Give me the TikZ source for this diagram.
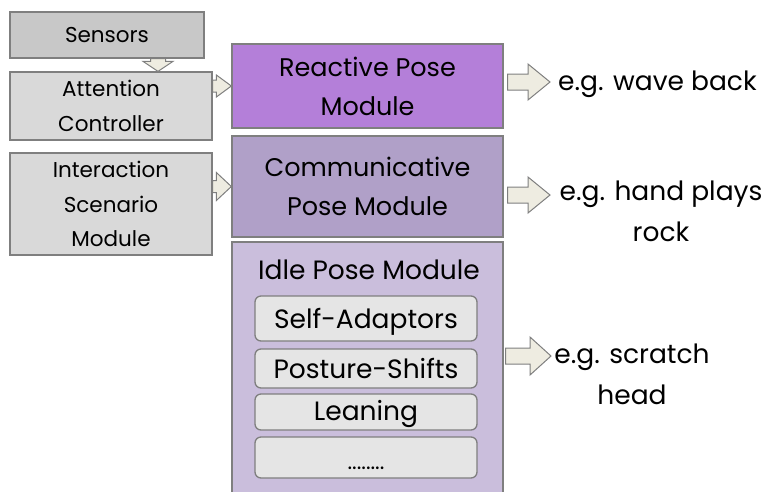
\documentclass[tikz,border=0pt]{standalone}
\usepackage{fontspec}
\setmainfont{Poppins}
\usetikzlibrary{calc}

\definecolor{sensfill}{HTML}{C8C8C8}
\definecolor{boxfill}{HTML}{D9D9D9}
\definecolor{reactfill}{HTML}{B47FD9}
\definecolor{commfill}{HTML}{B0A0C8}
\definecolor{idlefill}{HTML}{CABEDC}
\definecolor{subfill}{HTML}{E5E5E5}
\definecolor{arrowfill}{HTML}{EEECE1}
\definecolor{edge}{HTML}{7F7F7F}

% horizontal block arrow: x of #1 (+ gap #6) to tip #2; shaft half #3, head half #4, head length #5
\newcommand{\hblock}[6]{%
  \path[blockarrow] let \p1=(#1), \p2=(#2) in
    (\x1+#6,\y2+#3) -- (\x2-#5,\y2+#3) -- (\x2-#5,\y2+#4) -- (\x2,\y2)
    -- (\x2-#5,\y2-#4) -- (\x2-#5,\y2-#3) -- (\x1+#6,\y2-#3) -- cycle;}
% downward block arrow: y of #1 to tip #2
\newcommand{\vblock}[5]{%
  \path[blockarrow] let \p1=(#1), \p2=(#2) in
    (\x2-#3,\y1) -- (\x2-#3,\y2+#5) -- (\x2-#4,\y2+#5) -- (\x2,\y2)
    -- (\x2+#4,\y2+#5) -- (\x2+#3,\y2+#5) -- (\x2+#3,\y1) -- cycle;}

\begin{document}
\begin{tikzpicture}[x=1pt,y=-1pt,
  box/.style={draw=edge, line width=1.3pt, rectangle, inner sep=0pt, align=center},
  leftbox/.style={box, fill=boxfill, minimum width=202pt, font=\fontsize{21.5}{34.5}\selectfont},
  module/.style={box, minimum width=271pt, font=\fontsize{25.5}{39}\selectfont},
  subbox/.style={draw=edge, line width=1.3pt, fill=subfill, rounded corners=6pt,
    minimum width=222pt, inner sep=0pt, font=\fontsize{26.5}{28}\selectfont},
  outtext/.style={align=center, inner sep=0pt, font=\fontsize{26.5}{41}\selectfont},
  blockarrow/.style={draw=edge, line width=1pt, fill=arrowfill, line join=miter}
]
\useasboundingbox (0,0) rectangle (765,491);

% input side
\node[box, fill=sensfill, minimum width=194pt, minimum height=46pt,
      font=\fontsize{21.5}{34}\selectfont] (sens) at (107,35) {Sensors};
\node[leftbox, minimum height=68pt] (att) at (111,106) {Attention\\Controller};
\node[leftbox, minimum height=102pt] (inter) at (111,204) {Interaction\\Scenario\\Module};

% pose modules
\node[module, fill=reactfill, minimum height=84pt] (react) at (367.5,86) {Reactive Pose\\Module};
\node[module, fill=commfill, minimum height=101pt] (comm) at (367.5,186.5) {Communicative\\Pose Module};
\node[module, fill=idlefill, minimum height=260pt] (idle) at (367.5,372) {};
\node[outtext] (idlet) at (369,270) {Idle Pose Module};

\node[subbox, minimum height=45pt, text height=21pt, text depth=2pt] (self) at (366,318.5) {Self-Adaptors};
\node[subbox, minimum height=39pt] (post) at (366,368.5) {Posture-Shifts};
\node[subbox, minimum height=36pt, text height=20pt, text depth=3pt] (lean) at (366,412) {Leaning};
\node[subbox, minimum height=41pt] (more) at (366,457.5) {};
\node[outtext, anchor=base, font=\fontsize{22}{26}\selectfont] (dots) at (366,469) {........};

% arrows between inputs and modules
\vblock{sens.south -| 158,0}{att.north -| 158,0}{7.5pt}{15pt}{10pt}
\hblock{att.east |- react.west}{react.west}{6pt}{11pt}{15pt}{0pt}
\hblock{inter.east |- comm.west}{comm.west}{6pt}{14pt}{15pt}{0pt}

% example outputs
\coordinate (t1) at (550,82);
\coordinate (t2) at (550,195);
\coordinate (t3) at (551,356);
\hblock{react.east}{t1}{8pt}{18pt}{22pt}{4pt}
\hblock{comm.east}{t2}{8pt}{18pt}{22pt}{4pt}
\hblock{idle.east}{t3}{8pt}{19pt}{21pt}{2pt}

\node[outtext, anchor=base west] (o1) at (558,90) {e.g. wave back};
\node[outtext, anchor=north] (o2) at (661,181) {e.g. hand plays\\rock};
\node[outtext, anchor=north] (o3) at (632,344) {e.g. scratch\\head};
\end{tikzpicture}
\end{document}
